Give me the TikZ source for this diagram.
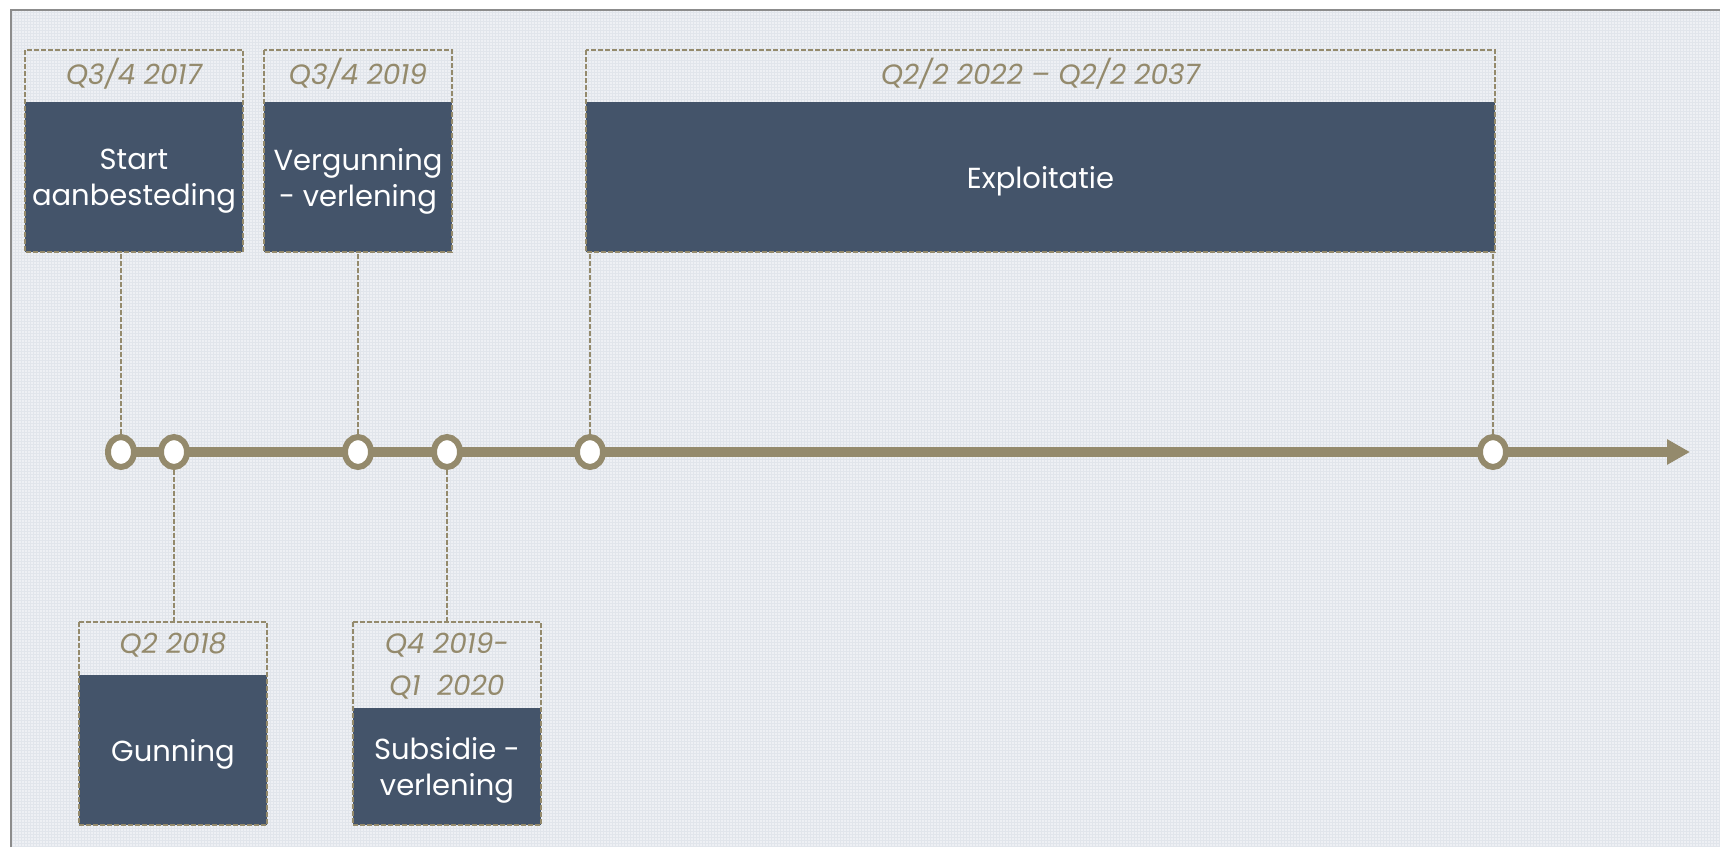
\documentclass[tikz,border=0pt]{standalone}
\usepackage{fontspec}
\setmainfont{Poppins}
\usepackage{tikz}
\usetikzlibrary{shapes,arrows,positioning,calc,arrows.meta}

\definecolor{slate}{HTML}{44546A}
\definecolor{taupe}{HTML}{948A6C}
\definecolor{paper}{HTML}{EEF0F4}
\definecolor{gridline}{HTML}{E1E5EB}
\definecolor{framegray}{HTML}{8C8C8C}

\begin{document}
\begin{tikzpicture}[x=0.5pt, y=-0.5pt,
    body/.style={fill=slate, text=white, inner sep=0pt, outer sep=0pt, align=center, text depth=-1pt, font=\fontsize{14.5}{18}\selectfont},
    date/.style={text=taupe, inner sep=0pt, outer sep=0pt, align=center, text depth=5pt, font=\fontsize{14}{21}\selectfont\itshape},
    outline/.style={draw=taupe, line width=0.8pt, dash pattern=on 2.5pt off 1pt},
    leader/.style={draw=taupe, line width=0.8pt, dash pattern=on 2.5pt off 1pt},
    milestone/.style={draw=taupe, fill=white, ellipse, line width=3pt, minimum width=13pt, minimum height=15pt, inner sep=0pt},
    timeline/.style={draw=taupe, line width=5pt, -{Triangle[length=11.5pt, width=12pt]}}]
    \useasboundingbox (0,0) rectangle (1720,847);
    \fill[paper] (11,847) rectangle (1720,10);
    \draw[gridline, line width=0.3pt, step=1.5pt] (11,847) grid (1720,10);
    \draw[framegray, line width=1pt] (11,847) -- (11,10) -- (1720,10);

    \node (start) [body, minimum width=109pt, minimum height=75pt] at (134,177) {Start\\aanbesteding};
    \node (startdate) [date, minimum width=109pt, minimum height=26pt, above=0pt of start] {Q3/4 2017};
    \node (vergunning) [body, minimum width=94pt, minimum height=75pt] at (358,177) {Vergunning\\- verlening};
    \node (vergunningdate) [date, minimum width=94pt, minimum height=26pt, above=0pt of vergunning] {Q3/4 2019};
    \node (exploitatie) [body, minimum width=454.5pt, minimum height=75pt] at (1040.5,177) {Exploitatie};
    \node (exploitatiedate) [date, minimum width=454.5pt, minimum height=26pt, above=0pt of exploitatie] {Q2/2 2022 -- Q2/2 2037};
    \node (gunning) [body, minimum width=94pt, minimum height=75pt] at (173,750) {Gunning};
    \node (gunningdate) [date, minimum width=94pt, minimum height=26.5pt, above=0pt of gunning] {Q2 2018};
    \node (subsidie) [body, minimum width=94pt, minimum height=58.5pt] at (447,766.5) {Subsidie -\\verlening};
    \node (subsidiedate) [date, text depth=1pt, minimum width=94pt, minimum height=43pt, above=0pt of subsidie] {Q4 2019-\\Q1\ \ 2020};

    \draw[outline] (startdate.north west) rectangle (start.south east);
    \draw[outline] (vergunningdate.north west) rectangle (vergunning.south east);
    \draw[outline] (exploitatiedate.north west) rectangle (exploitatie.south east);
    \draw[outline] (gunningdate.north west) rectangle (gunning.south east);
    \draw[outline] (subsidiedate.north west) rectangle (subsidie.south east);

    \coordinate (origin) at (121,452);
    \coordinate (tip) at (1690,452);
    \draw[timeline] (origin) -- (tip);

    \node (tstart) [milestone] at (origin) {};
    \node (tgunning) [milestone] at (174,452) {};
    \node (tvergunning) [milestone] at (358,452) {};
    \node (tsubsidie) [milestone] at (447,452) {};
    \node (texpstart) [milestone] at (590,452) {};
    \node (texpend) [milestone] at (1493,452) {};

    \draw[leader] (tstart) -- (tstart |- start.south);
    \draw[leader] (tvergunning) -- (tvergunning |- vergunning.south);
    \draw[leader] (texpstart) -- (texpstart |- exploitatie.south);
    \draw[leader] (texpend) -- (texpend |- exploitatie.south);
    \draw[leader] (tgunning) -- (tgunning |- gunningdate.north);
    \draw[leader] (tsubsidie) -- (tsubsidie |- subsidiedate.north);
\end{tikzpicture}
\end{document}
